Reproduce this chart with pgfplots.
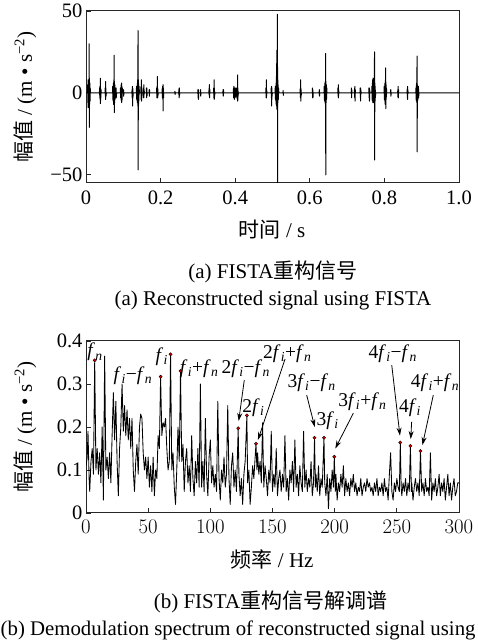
\documentclass[border=0pt]{standalone}
\usepackage{fontspec}
\setmainfont{Liberation Serif}
\newfontfamily\cjk{Noto Sans CJK SC}
\usepackage{pgfplots}
\pgfplotsset{compat=1.18}
\usetikzlibrary{arrows.meta}
\newcommand{\fs}[1]{\textit{f}\kern0.3pt\textsubscript{\textit{#1}}}
\newcommand{\tk}{\fontsize{20.5}{24}\selectfont}
\newcommand{\an}{\fontsize{19.5}{23}\selectfont}
\newcommand{\lb}{\fontsize{21}{25}\selectfont}
\begin{document}
\begin{tikzpicture}[x=1pt,y=1pt]
\useasboundingbox (0,0) rectangle (477,644);
\pgfplotsset{myax/.style={width=373pt,height=172pt,scale only axis,
  axis line style={black!85,line width=1pt},
  tick style={black!85,line width=0.9pt}, major tick length=4.5pt,
  xtick pos=bottom, ytick pos=left, tick align=inside,
  tick label style={font=\tk}, label style={font=\lb},
  xticklabel style={yshift=-4pt},
  xlabel style={at={(axis description cs:0.499,-0.273)},anchor=center},
  ylabel style={at={(axis description cs:-0.163,0.5)},anchor=center},
  clip mode=individual}}
\begin{axis}[myax, at={(86pt,461pt)}, anchor=south west,
  xmin=0,xmax=1,ymin=-55,ymax=50,
  xtick={0,0.2,0.4,0.6,0.8,1}, xticklabels={0,0.2,0.4,0.6,0.8,1.0},
  ytick={-50,0,50}, yticklabels={−50,0,50},
  xlabel={{\cjk 时间} / s}, ylabel={{\cjk 幅值} / (m • s\textsuperscript{−2})}]
\addplot[black, line width=1pt, line join=round] coordinates {
(0,0)
(0.004,0)(0.0045,5)(0.005,-6)(0.0055,8)(0.006,-9)(0.0065,6)(0.007,-8)(0.0075,8)(0.008,-8)(0.0085,30)(0.0088,-21)(0.0093,9)(0.0098,-7)(0.0103,6)(0.0108,-5)(0.0113,3)(0.012,0)
(0.036,0)(0.0365,3)(0.037,-3)(0.0375,4)(0.038,-4)(0.0385,9)(0.0388,-6.5)(0.0393,3)(0.0398,-3)(0.0403,2)(0.041,0)
(0.051,0)(0.0515,3)(0.052,-2)(0.0525,7)(0.0528,-4)(0.0533,3)(0.0538,-2)(0.0545,0)
(0.071,0)(0.0715,4)(0.072,-4)(0.0725,4)(0.073,-5)(0.0735,6)(0.074,-7)(0.0745,8)(0.075,-7)(0.0755,23)(0.0758,-12)(0.0763,7)(0.0768,-6)(0.0773,5)(0.0778,-4)(0.0785,3)(0.079,-2)(0.0795,0)
(0.080,0)(0.0805,3)(0.081,-3)(0.082,0)
(0.092,0)(0.0925,3)(0.093,-3)(0.0935,3)(0.094,-4)(0.0945,5)(0.095,-5)(0.0955,6)(0.0958,-6)(0.0963,4)(0.0968,-4)(0.0973,3)(0.098,0)
(0.100,0)(0.1005,2)(0.101,-2)(0.1015,0)
(0.123,0)(0.1235,2)(0.124,-3)(0.1245,4)(0.1248,-8)(0.1253,3)(0.1258,-3)(0.1265,0)
(0.135,0)(0.1355,4)(0.136,-4)(0.1365,4)(0.137,-5)(0.1375,6)(0.138,-6)(0.1385,8)(0.139,-8)(0.1395,38)(0.1398,-47)(0.1403,8)(0.1408,-7)(0.1413,6)(0.1418,-5)(0.1425,4)(0.143,0)
(0.147,0)(0.1475,4)(0.148,-4)(0.1485,8)(0.1488,-5)(0.1493,4)(0.1498,-3)(0.1505,0)
(0.1535,0)(0.154,3)(0.1545,-3)(0.155,5)(0.1553,-3)(0.1558,2)(0.1565,0)
(0.1615,0)(0.162,3)(0.1625,-3)(0.163,3)(0.1635,-2)(0.164,0)
(0.169,0)(0.1695,2)(0.170,-2)(0.1705,2)(0.171,0)
(0.189,0)(0.1895,3)(0.190,-3)(0.1905,4)(0.191,-3)(0.1915,10)(0.1918,-3)(0.1923,3)(0.1928,-2)(0.1935,0)
(0.204,0)(0.2045,3)(0.205,-3)(0.2055,4)(0.206,-4)(0.2065,5)(0.2068,-11)(0.2073,3)(0.2078,-3)(0.2085,0)
(0.238,0)(0.2385,1)(0.239,-1)(0.2395,0)
(0.2485,0)(0.249,2)(0.2495,-3)(0.250,3)(0.2505,-2)(0.251,0)
(0.2995,0)(0.300,2)(0.3005,-3)(0.301,2)(0.3015,-4)(0.302,0)
(0.3065,0)(0.307,2)(0.3075,-2)(0.308,0)
(0.3295,0)(0.330,3)(0.3305,-2)(0.331,5)(0.3313,-3)(0.3318,2)(0.3325,0)
(0.342,0)(0.3425,3)(0.343,-3)(0.3435,8)(0.3438,-4)(0.3443,3)(0.3448,-2)(0.3455,0)
(0.367,0)(0.3675,2)(0.368,-2)(0.3685,2)(0.369,0)
(0.395,0)(0.3955,3)(0.396,-3)(0.3965,4)(0.397,-3)(0.3975,3)(0.398,-4)(0.3985,3)(0.399,-2)(0.3995,0)
(0.401,0)(0.4015,3)(0.402,-3)(0.4025,3)(0.403,-2)(0.404,0)
(0.405,0)(0.4055,3)(0.406,-4)(0.4065,11)(0.4068,-5)(0.4073,3)(0.4078,-2)(0.4085,0)
(0.482,0)(0.4825,3)(0.483,-3)(0.4835,8)(0.4838,-3)(0.4843,2)(0.485,0)
(0.496,0)(0.4965,3)(0.497,-3)(0.4975,4)(0.4978,-8)(0.4983,3)(0.4988,-2)(0.4995,0)
(0.507,0)(0.5075,4)(0.508,-4)(0.5085,4)(0.509,-5)(0.5095,6)(0.510,-7)(0.5105,10)(0.511,-8)(0.5115,26)(0.5118,-10)(0.5123,8)(0.5128,-7)(0.5133,48)(0.5136,-55)(0.5141,8)(0.5146,-6)(0.5151,5)(0.5156,-4)(0.5163,3)(0.517,0)
(0.528,0)(0.5285,1.5)(0.529,-1.5)(0.5295,0)
(0.574,0)(0.5745,3)(0.575,-3)(0.5755,8)(0.5758,-5)(0.5763,3)(0.5768,-2)(0.5775,0)
(0.6065,0)(0.607,3)(0.6075,-3)(0.608,2)(0.6085,-3)(0.609,0)
(0.625,0)(0.6255,2)(0.626,-2)(0.6265,0)
(0.638,0)(0.6385,4)(0.639,-4)(0.6395,4)(0.640,-5)(0.6405,6)(0.641,-6)(0.6415,7)(0.642,-7)(0.6425,24)(0.6428,-50)(0.6433,7)(0.6438,-6)(0.6443,5)(0.6448,-4)(0.6455,3)(0.646,0)
(0.675,0)(0.6755,3)(0.676,-2)(0.6765,5)(0.6768,-3)(0.6773,2)(0.678,0)
(0.711,0)(0.7115,3)(0.712,-3)(0.7125,2)(0.713,0)
(0.7195,0)(0.720,3)(0.7205,-3)(0.721,4)(0.7213,-5)(0.7218,2)(0.7225,0)
(0.7345,0)(0.735,3)(0.7355,-3)(0.736,3)(0.7363,-5)(0.7368,2)(0.7375,0)
(0.758,0)(0.7585,3)(0.759,-3)(0.7595,3)(0.760,-5)(0.7605,2)(0.761,0)
(0.766,0)(0.7665,4)(0.767,-4)(0.7675,6)(0.768,-5)(0.7685,8)(0.769,-6)(0.7695,9)(0.770,-6)(0.7705,7)(0.771,-6)(0.7715,6)(0.772,-5)(0.7725,7)(0.773,-6)(0.7735,25)(0.7738,-41)(0.7743,6)(0.7748,-5)(0.7753,4)(0.7758,-3)(0.7765,0)
(0.799,0)(0.7995,4)(0.800,-4)(0.8005,4)(0.801,-5)(0.8015,6)(0.802,-7)(0.8025,8)(0.803,-7)(0.8035,15.3)(0.8038,-9.6)(0.8043,5)(0.8048,-4)(0.8055,3)(0.806,0)
(0.8165,0)(0.817,2)(0.8175,-2)(0.818,0)
(0.8355,0)(0.836,2)(0.8365,-3)(0.837,4)(0.8373,-3)(0.8378,2)(0.8385,0)
(0.8605,0)(0.861,2)(0.8615,-3)(0.862,4)(0.8623,-4)(0.8628,2)(0.8635,0)
(0.884,0)(0.8845,3)(0.885,-4)(0.8855,5)(0.886,-5)(0.8865,6)(0.887,-6)(0.8875,22.5)(0.8878,-36)(0.8883,5)(0.8888,-5)(0.8893,4)(0.8898,-4)(0.8903,4)(0.8908,-3)(0.8913,4)(0.8918,-3)(0.8925,0)
(1,0)};
\end{axis}
\node[font=\lb] at (273,372) {(a) FISTA{\cjk 重构信号}};
\node[font=\lb] at (273,344) {(a) Reconstructed signal using FISTA};
\begin{axis}[myax, at={(86pt,131pt)}, anchor=south west,
  xmin=0,xmax=300,ymin=0,ymax=0.4,
  xtick={0,50,100,150,200,250,300},
  ytick={0,0.1,0.2,0.3,0.4}, yticklabels={0,0.1,0.2,0.3,0.4},
  xlabel={{\cjk 频率} / Hz}, ylabel={{\cjk 幅值} / (m • s\textsuperscript{−2})}]
\addplot[black, line width=0.85pt, line join=round] coordinates {
(0,0.11)(1,0.13)(1.6,0.19)(2.5,0.08)(3,0.05)(4,0.12)(5,0.15)(6,0.09)(7,0.355)(8,0.10)(9,0.15)
(10,0.09)(11,0.14)(12,0.07)(13,0.20)(14,0.03)(15,0.365)(16,0.10)(17,0.13)(18,0.08)(19,0.14)
(20,0.07)(21,0.18)(22,0.28)(23,0.17)(24,0.26)(25,0.12)(26,0.04)(27,0.15)(28,0.20)(29,0.30)
(30,0.19)(31,0.25)(32,0.18)(33,0.24)(34,0.17)(35,0.22)(36,0.15)(37,0.22)(38,0.10)(39,0.05)
(40,0.12)(41,0.16)(42,0.09)(43,0.20)(44,0.23)(45,0.22)(46,0.14)(47,0.10)(48,0.13)(49,0.08)
(50,0.13)(51,0.06)(52,0.11)(53,0.05)(54,0.13)(55,0.04)(56,0.10)(57,0.08)(58,0.18)(59,0.15)
(60,0.317)(61,0.18)(62,0.21)(63,0.20)(64,0.22)(65,0.15)(66,0.10)(67,0.12)(68,0.369)(69,0.10)
(70,0.14)(71,0.06)(72,0.02)(73,0.10)(74,0.20)(75,0.12)(76,0.33)(77,0.12)(78,0.16)(79,0.05)
(80,0.12)(81,0.15)(82,0.07)(83,0.11)(84,0.05)(85,0.18)(86,0.08)(87,0.04)(88,0.12)(89,0.07)
(90,0.15)(91,0.06)(92,0.30)(93,0.06)(94,0.12)(95,0.05)(96,0.22)(97,0.09)(98,0.04)(99,0.13)
(100,0.17)(101,0.07)(102,0.11)(103,0.06)(104,0.09)(105,0.05)(106,0.26)(107,0.08)(108,0.03)(109,0.10)
(110,0.07)(111,0.13)(112,0.06)(113,0.09)(114,0.25)(115,0.08)(116,0.02)(117,0.11)(118,0.14)(119,0.06)
(120,0.10)(121,0.05)(122.4,0.197)(123,0.09)(124,0.04)(125,0.08)(126,0.02)(127,0.09)(128,0.12)(129.4,0.227)
(130,0.07)(131,0.10)(132,0.02)(133,0.06)(134,0.11)(135,0.08)(136.7,0.161)(137.5,0.10)(138,0.14)(139,0.09)
(140,0.12)(141,0.07)(142,0.21)(143,0.06)(144,0.11)(145,0.08)(146,0.04)(147,0.10)(148,0.07)(149,0.19)
(150,0.05)(151,0.09)(152,0.06)(153,0.15)(154,0.04)(155,0.08)(156,0.10)(157,0.05)(158,0.09)(159,0.06)
(160,0.18)(161,0.05)(162,0.08)(163,0.03)(164,0.10)(165,0.07)(166,0.12)(167,0.05)(168,0.17)(169,0.06)
(170,0.09)(171,0.04)(172,0.11)(173,0.07)(174,0.05)(175,0.19)(176,0.06)(177,0.10)(178,0.05)(179,0.08)
(180,0.06)(181,0.12)(182,0.04)(183,0.07)(183.8,0.175)(184.5,0.06)(185,0.09)(186,0.05)(187,0.11)(188,0.04)
(189,0.08)(190,0.06)(191.4,0.175)(192,0.07)(193,0.04)(194,0.09)(195,0.01)(196,0.08)(197,0.05)(198,0.10)
(199,0.06)(199.7,0.131)(200.5,0.05)(201,0.09)(202,0.03)(203,0.07)(204,0.05)(205,0.09)(206,0.06)(207,0.11)
(208,0.04)(209,0.08)(210,0.05)(211,0.07)(212,0.04)(213,0.08)(214,0.06)(215,0.09)(216,0.05)(217,0.07)
(218,0.04)(219,0.06)(220,0.05)(221,0.08)(222,0.04)(223,0.06)(224,0.07)(225,0.05)(226,0.08)(227,0.06)
(228,0.07)(229,0.05)(230,0.06)(231,0.04)(232,0.07)(233,0.05)(234,0.08)(235,0.04)(236,0.06)(237,0.05)
(238,0.07)(239,0.04)(240,0.08)(241,0.05)(242,0.06)(243,0.03)(244,0.09)(245,0.14)(246,0.05)(247,0.03)
(248,0.07)(249,0.05)(250,0.08)(251,0.06)(252,0.05)(252.8,0.164)(253.5,0.06)(254,0.04)(255,0.07)(256,0.05)
(257,0.08)(258,0.04)(259,0.07)(260,0.05)(260.9,0.156)(261.7,0.05)(262,0.07)(263,0.03)(264,0.06)(265,0.08)
(266,0.05)(267,0.07)(268,0.04)(269,0.144)(270,0.05)(271,0.07)(272,0.04)(273,0.08)(274,0.05)(275,0.06)
(276,0.04)(277,0.14)(278,0.03)(279,0.07)(280,0.05)(281,0.08)(282,0.04)(283,0.06)(284,0.09)(285,0.04)
(286,0.07)(287,0.05)(288,0.08)(289,0.03)(290,0.06)(291,0.09)(292,0.04)(293,0.07)(294,0.03)(295,0.06)
(296,0.08)(297,0.04)(298,0.05)(299,0.07)(300,0.07)};
\addplot[only marks, mark=*, mark size=1.6pt, mark options={fill=red!85!black, draw=black, line width=0.4pt}] coordinates {
(7,0.355)(60,0.317)(68,0.369)(76,0.33)(122.4,0.197)(129.4,0.227)(136.7,0.161)
(183.8,0.175)(191.4,0.175)(199.7,0.131)(252.8,0.164)(260.9,0.156)(269,0.144)};
\node[font=\an] at (axis cs:7.2,0.374) {\fs{n}};
\node[font=\an] at (axis cs:37.8,0.320) {\fs{i}−\fs{n}};
\node[font=\an] at (axis cs:60.9,0.363) {\fs{i}};
\node[font=\an] at (axis cs:91.0,0.336) {\fs{i}+\fs{n}};
\node[font=\an] at (axis cs:128.5,0.336) {2\fs{i}−\fs{n}};
\node[font=\an] at (axis cs:161.9,0.371) {2\fs{i}+\fs{n}};
\node[font=\an] at (axis cs:134.6,0.246) {2\fs{i}};
\node[font=\an] at (axis cs:181.5,0.304) {3\fs{i}−\fs{n}};
\node[font=\an] at (axis cs:194.4,0.214) {3\fs{i}};
\node[font=\an] at (axis cs:222.3,0.259) {3\fs{i}+\fs{n}};
\node[font=\an] at (axis cs:246.7,0.371) {4\fs{i}−\fs{n}};
\node[font=\an] at (axis cs:260.6,0.246) {4\fs{i}};
\node[font=\an] at (axis cs:280.7,0.304) {4\fs{i}+\fs{n}};
\begin{scope}[-{Stealth[length=8pt,width=5pt]}, line width=0.8pt]
\draw (axis cs:127.3,0.309) -- (axis cs:122.8,0.214);
\draw (axis cs:160.1,0.358) -- (axis cs:138.3,0.170);
\draw (axis cs:177.5,0.274) -- (axis cs:184.0,0.200);
\draw (axis cs:215,0.232) -- (axis cs:200.5,0.150);
\draw (axis cs:245.9,0.344) -- (axis cs:252.5,0.180);
\draw (axis cs:261.9,0.212) -- (axis cs:261.2,0.172);
\draw (axis cs:279.3,0.274) -- (axis cs:270.6,0.158);
\end{scope}
\end{axis}
\node[font=\lb] at (270.5,42) {(b) FISTA{\cjk 重构信号解调谱}};
\node[font=\fontsize{20.8}{24}\selectfont, anchor=west, inner sep=0pt] at (0.5,14) {(b) Demodulation spectrum of reconstructed signal using};
\end{tikzpicture}
\end{document}
